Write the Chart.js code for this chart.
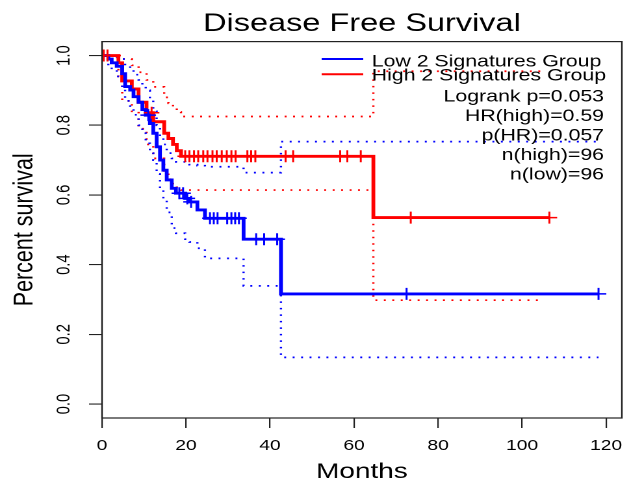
<!DOCTYPE html>
<html>
<head>
<meta charset="utf-8">
<script src="https://cdn.jsdelivr.net/npm/chart.js@4.4.1/dist/chart.umd.min.js"></script>
<style>
  html, body { margin: 0; padding: 0; background: #ffffff; }
  #wrap { width: 642px; height: 495px; overflow: hidden; position: relative; background: #fff; }
  #c { display: block; transform: scaleX(1.2996); transform-origin: 0 0; }
</style>
</head>
<body>
<div id="wrap"><canvas id="c" width="494" height="495"></canvas></div>
<script>
// ---------------- data ----------------
const chartTitle = 'Disease Free Survival';
const xAxisTitle = 'Months';
const yAxisTitle = 'Percent survival';
const xTickValues = [0, 20, 40, 60, 80, 100, 120];
const yTickValues = [0, 0.2, 0.4, 0.6, 0.8, 1.0];
const yTickLabels = ['0.0', '0.2', '0.4', '0.6', '0.8', '1.0'];
const xRange = [0, 123.76];
const yRange = [-0.04, 1.04];

const seriesNames = ['Low 2 Signatures Group', 'High 2 Signatures Group'];
const statsLines = ['Logrank p=0.053', 'HR(high)=0.59', 'p(HR)=0.057', 'n(high)=96', 'n(low)=96'];

// Low group (blue): step times (months) and survival after each step; last entry = end of follow-up
const lowTimes = [0, 1.5, 2.3, 3.5, 4.8, 5.5, 6.7, 7.5, 8.7, 9.6, 10.4, 11.4, 12.2, 13.0, 13.8, 14.6, 15.4, 16.6, 17.6, 19.8, 20.8, 22.7, 24.5, 33.7, 42.6, 118.2];
const lowSurv  = [1, 0.99, 0.979, 0.969, 0.948, 0.911, 0.901, 0.882, 0.866, 0.845, 0.829, 0.805, 0.777, 0.738, 0.70, 0.671, 0.643, 0.619, 0.605, 0.59, 0.58, 0.557, 0.533, 0.473, 0.316, 0.316];
const lowUpper = [1, 1, 1, 0.995, 0.99, 0.97, 0.96, 0.945, 0.93, 0.915, 0.90, 0.877, 0.84, 0.80, 0.767, 0.745, 0.72, 0.705, 0.695, 0.69, 0.687, 0.684, 0.681, 0.664, 0.753, 0.753];
const lowLower = [1, 0.97, 0.958, 0.94, 0.906, 0.87, 0.855, 0.83, 0.80, 0.777, 0.748, 0.72, 0.70, 0.66, 0.62, 0.585, 0.55, 0.505, 0.49, 0.473, 0.465, 0.447, 0.418, 0.339, 0.134, 0.134];
const lowCensor = [11.0, 18.4, 19.3, 20.3, 21.2, 25.7, 26.6, 27.5, 29.8, 30.8, 31.7, 32.6, 36.7, 38.6, 41.7, 72.5, 118.2];

// High group (red)
const highTimes = [0, 3.9, 4.8, 7.1, 8.7, 10.6, 12.2, 14.8, 15.8, 16.9, 17.8, 18.8, 64.6, 106.5];
const highSurv  = [1, 0.979, 0.927, 0.904, 0.866, 0.836, 0.81, 0.777, 0.762, 0.745, 0.727, 0.711, 0.535, 0.535];
const highCiTimes = [0, 3.9, 4.8, 7.1, 8.7, 10.6, 12.2, 14.8, 15.8, 16.9, 17.8, 18.8, 64.6, 105.3];
const highUpper = [1, 1, 0.99, 0.972, 0.952, 0.93, 0.91, 0.88, 0.863, 0.85, 0.838, 0.825, 0.955, 0.955];
const highLower = [1, 0.94, 0.87, 0.84, 0.79, 0.745, 0.705, 0.665, 0.645, 0.632, 0.622, 0.614, 0.298, 0.298];
const highCensor = [0.4, 1.3, 11.8, 19.8, 20.8, 21.9, 22.9, 24.1, 25.1, 26.3, 27.3, 28.5, 29.7, 30.8, 31.8, 34.6, 35.5, 36.5, 43.7, 45.5, 56.7, 58.4, 61.6, 73.5, 106.5];

// ---------------- helpers ----------------
const FONT = "'Liberation Sans', Arial, Helvetica, sans-serif";
const BLUE = '#0000ff';
const RED = '#ff0000';

function pairs(times, vals) { return times.map((t, i) => ({ x: t, y: vals[i] })); }
function survAt(times, vals, t) {
  let v = vals[0];
  for (let i = 0; i < times.length; i++) { if (times[i] <= t) v = vals[i]; }
  return v;
}
function stepSet(label, times, vals, color, width, dash, order) {
  return {
    label, data: pairs(times, vals), showLine: true, stepped: true, fill: false,
    borderColor: color, borderWidth: width, borderDash: dash, borderCapStyle: 'butt',
    pointRadius: 0, pointHoverRadius: 0, pointHitRadius: 0, order
  };
}
function censorSet(label, times, vals, cens, color) {
  return {
    label, data: cens.map(t => ({ x: t, y: survAt(times, vals, t) })), showLine: false,
    pointStyle: 'cross', pointRadius: 6, pointHoverRadius: 6, pointBorderWidth: 1.5,
    pointBorderColor: color, pointBackgroundColor: color, order: 0
  };
}

const datasets = [
  censorSet('Low censored', lowTimes, lowSurv, lowCensor, BLUE),
  censorSet('High censored', highTimes, highSurv, highCensor, RED),
  stepSet(seriesNames[0], lowTimes, lowSurv, BLUE, 2.9, [], 1),
  stepSet(seriesNames[1], highTimes, highSurv, RED, 2.9, [], 1),
  stepSet('Low upper CI', lowTimes, lowUpper, BLUE, 1.7, [1.5, 5], 2),
  stepSet('Low lower CI', lowTimes, lowLower, BLUE, 1.7, [1.5, 5], 2),
  stepSet('High upper CI', highCiTimes, highUpper, RED, 1.7, [1.5, 5], 2),
  stepSet('High lower CI', highCiTimes, highLower, RED, 1.7, [1.5, 5], 2)
];

// frame box, rotated y tick labels, legend & statistics text
const decorations = {
  id: 'decorations',
  afterDraw(chart) {
    const { ctx, chartArea: a } = chart;
    const ys = chart.scales.y;
    ctx.save();
    // plot box
    ctx.strokeStyle = '#222';
    ctx.lineWidth = 1.2;
    ctx.strokeRect(a.left, a.top, a.right - a.left, a.bottom - a.top);
    // y tick labels (rotated like R's default)
    ctx.fillStyle = '#000';
    ctx.font = `14.8px ${FONT}`;
    ctx.textAlign = 'center';
    ctx.textBaseline = 'middle';
    yTickValues.forEach((v, i) => {
      const py = ys.getPixelForValue(v);
      ctx.save();
      ctx.translate(49.5, py);
      ctx.rotate(-Math.PI / 2);
      ctx.fillText(yTickLabels[i], 0, 0);
      ctx.restore();
    });
    // legend
    const legendColors = [BLUE, RED];
    const lineY = [59, 74.3];
    const textY = [66.7, 80.7];
    ctx.font = `16.4px ${FONT}`;
    ctx.textBaseline = 'alphabetic';
    ctx.textAlign = 'left';
    seriesNames.forEach((name, i) => {
      ctx.strokeStyle = legendColors[i];
      ctx.lineWidth = 2;
      ctx.beginPath();
      ctx.moveTo(247.5, lineY[i]);
      ctx.lineTo(279.5, lineY[i]);
      ctx.stroke();
      ctx.fillText(name, 286, textY[i]);
    });
    ctx.textAlign = 'right';
    statsLines.forEach((s, i) => {
      ctx.fillText(s, 464.8, 101.7 + i * 19.4);
    });
    ctx.restore();
  }
};

new Chart(document.getElementById('c'), {
  type: 'scatter',
  data: { datasets },
  options: {
    responsive: false,
    animation: false,
    devicePixelRatio: 2,
    events: [],
    layout: { padding: { left: 0, right: 15.5, top: 0, bottom: 0 } },
    plugins: {
      legend: { display: false },
      tooltip: { enabled: false },
      title: {
        display: true, text: chartTitle, fullSize: false, color: '#000',
        font: { family: FONT, size: 25, weight: 'normal' },
        padding: { top: 9, bottom: 2.6 }
      }
    },
    scales: {
      x: {
        type: 'linear', position: 'bottom', min: xRange[0], max: xRange[1],
        afterBuildTicks: s => { s.ticks = xTickValues.map(v => ({ value: v })); },
        afterFit: s => { s.height = 77; },
        ticks: { color: '#000', font: { family: FONT, size: 14.8 }, padding: 9.1, maxRotation: 0, autoSkip: false,
                 callback: v => String(v) },
        grid: { drawOnChartArea: false, drawTicks: true, tickLength: 10, color: '#222', lineWidth: 1.1 },
        border: { display: false },
        title: { display: true, text: xAxisTitle, color: '#000', font: { family: FONT, size: 21.5 },
                 padding: { top: 0, bottom: 10.1 } }
      },
      y: {
        type: 'linear', position: 'left', min: yRange[0], max: yRange[1],
        afterBuildTicks: s => { s.ticks = yTickValues.map(v => ({ value: v })); },
        afterFit: s => { s.width = 78.5; },
        ticks: { display: false },
        grid: { drawOnChartArea: false, drawTicks: true, tickLength: 10, color: '#222', lineWidth: 1.1 },
        border: { display: false },
        title: { display: true, text: yAxisTitle, color: '#000', font: { family: FONT, size: 21.5 },
                 padding: { top: 6.3, bottom: 0 } }
      }
    }
  },
  plugins: [decorations]
});
</script>
</body>
</html>
